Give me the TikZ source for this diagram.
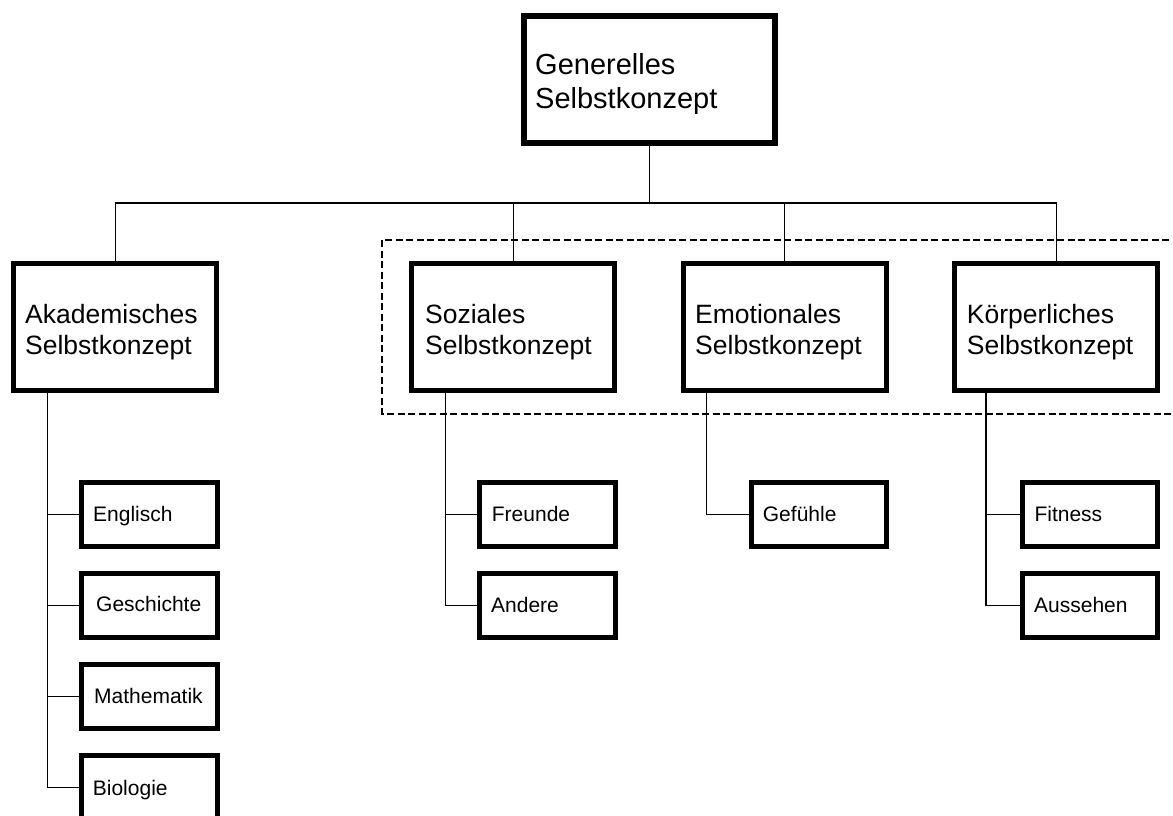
\documentclass[tikz,border=0pt]{standalone}
\usepackage{fontspec}
\setmainfont{Liberation Sans}
\begin{document}
\begin{tikzpicture}[x=1pt,y=-1pt,
  conn/.style={line width=1.3pt, draw=black},
  bigbox/.style={draw, line width=5pt, minimum width=203pt, minimum height=127pt, inner sep=0pt},
  topbox/.style={bigbox, line width=6pt, minimum width=251.3pt, minimum height=126.4pt},
  smallbox/.style={draw, line width=5pt, minimum width=135.5pt, minimum height=64pt, inner sep=0pt},
  bigtext/.style={anchor=base west, inner sep=0pt, align=left, font=\fontsize{26.5}{31}\selectfont},
  toptext/.style={bigtext, font=\fontsize{29}{34}\selectfont},
  smalltext/.style={anchor=base west, inner sep=0pt, font=\fontsize{21}{25}\selectfont},
  groupframe/.style={draw, line width=2pt, dash pattern=on 7pt off 3.5pt}]
\useasboundingbox (0,0) rectangle (1173,816);

% dashed group frame
\draw[groupframe] (382,240) rectangle (1190,413.5);

% main boxes (label anchor = baseline of last line)
\node[topbox] (gen) at (649.3,79.5) {};
\node[toptext] (genL) at (535,108) {Generelles\\Selbstkonzept};
\node[bigbox] (aka) at (115.3,326.5) {};
\node[bigtext] (akaL) at (25,354) {Akademisches\\Selbstkonzept};
\node[bigbox] (soz) at (513.3,326.7) {};
\node[bigtext] (sozL) at (425,354) {Soziales\\Selbstkonzept};
\node[bigbox] (emo) at (784.5,326.7) {};
\node[bigtext] (emoL) at (695,354) {Emotionales\\Selbstkonzept};
\node[bigbox] (koe) at (1056.2,326.7) {};
\node[bigtext] (koeL) at (966.7,354) {Körperliches\\Selbstkonzept};

% sub boxes
\node[smallbox] (eng) at (149.7,514.5) {};
\node[smalltext] (engL) at (93,521.7) {Englisch};
\node[smallbox] (ges) at (149.7,605.4) {};
\node[smalltext] (gesL) at (96,611.7) {Geschichte};
\node[smallbox] (mat) at (149.7,696.5) {};
\node[smalltext] (matL) at (94,703.3) {Mathematik};
\node[smallbox] (bio) at (149.7,787.5) {};
\node[smalltext] (bioL) at (92.7,795) {Biologie};
\node[smallbox] (fre) at (547.3,514.5) {};
\node[smalltext] (freL) at (491.7,521.7) {Freunde};
\node[smallbox] (andr) at (547.3,605.4) {};
\node[smalltext] (andrL) at (491,612.7) {Andere};
\node[smallbox] (gef) at (819,514.5) {};
\node[smalltext] (gefL) at (762.7,521.7) {Gefühle};
\node[smallbox] (fit) at (1090,514.5) {};
\node[smalltext] (fitL) at (1034.3,521.7) {Fitness};
\node[smallbox] (aus) at (1090,605.4) {};
\node[smalltext] (ausL) at (1034,612.7) {Aussehen};

% helper coordinates
\coordinate (bus) at (649.3,203);
\coordinate (akax) at (47.7,0);
\coordinate (sozx) at (445.7,0);
\coordinate (emox) at (706.5,0);
\coordinate (koex) at (986,0);

% top level connectors
\draw[conn] (gen.south) -- (gen.south |- bus);
\draw[conn] (aka.north) -- (aka.north |- bus) -- (koe.north |- bus) -- (koe.north);
\draw[conn] (soz.north) -- (soz.north |- bus);
\draw[conn] (emo.north) -- (emo.north |- bus);

% sub connectors
\draw[conn] (aka.south -| akax) |- (bio.west);
\draw[conn] (eng.west -| akax) -- (eng.west);
\draw[conn] (ges.west -| akax) -- (ges.west);
\draw[conn] (mat.west -| akax) -- (mat.west);
\draw[conn] (soz.south -| sozx) |- (andr.west);
\draw[conn] (fre.west -| sozx) -- (fre.west);
\draw[conn] (emo.south -| emox) |- (gef.west);
\draw[conn] (koe.south -| koex) |- (aus.west);
\draw[conn] (fit.west -| koex) -- (fit.west);
\end{tikzpicture}
\end{document}
